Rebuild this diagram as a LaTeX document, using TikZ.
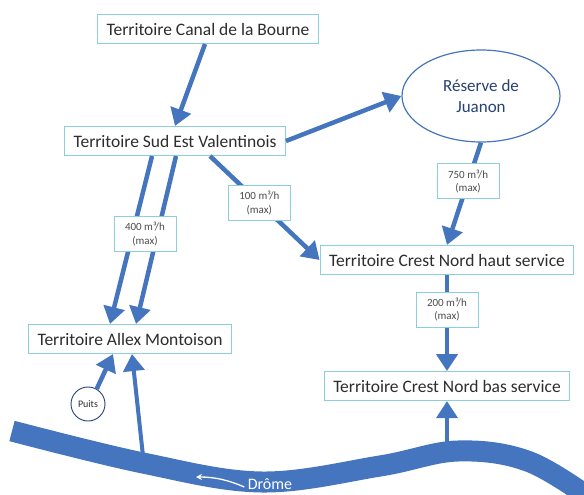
\documentclass[tikz,border=0pt]{standalone}
\usepackage{fontspec}
\setmainfont{Carlito}
\usetikzlibrary{positioning, shapes.geometric, arrows.meta}

\definecolor{fleuve}{RGB}{68,117,190}
\definecolor{cadre}{RGB}{140,205,222}
\definecolor{encre}{RGB}{45,45,45}
\definecolor{marine}{RGB}{40,65,115}

\begin{document}
\begin{tikzpicture}[
    x=1pt, y=-1pt,
    node distance=96pt,
    box/.style={
        rectangle,
        draw=cadre, line width=1.1pt, fill=white,
        text=encre,
        minimum height=29pt,
        inner xsep=9pt,
        font=\fontsize{17.5}{19}\selectfont
    },
    debit/.style={
        rectangle,
        draw=cadre, line width=1pt, fill=white,
        text=encre!85, align=center,
        inner sep=2pt,
        minimum width=62pt, minimum height=35pt,
        font=\fontsize{11}{13.5}\selectfont
    },
    reserve/.style={
        ellipse,
        draw=fleuve, line width=1.2pt, fill=white,
        text=marine, align=center,
        minimum width=158pt, minimum height=92pt,
        font=\fontsize{17}{21}\selectfont
    },
    puitsbox/.style={
        circle,
        draw=marine, line width=0.9pt, fill=white,
        text=encre, inner sep=0pt,
        minimum size=34pt,
        font=\fontsize{10}{11}\selectfont
    },
    flux/.style={
        draw=fleuve, line width=4.5pt,
        -{Triangle[length=17pt,width=21pt]}
    },
    riviere/.style={
        draw=fleuve, line width=21pt
    },
    courant/.style={
        draw=white, line width=1.3pt,
        -{Stealth[length=6pt,width=6pt]}
    }
]
\useasboundingbox (0,0) rectangle (584,495);

% Drome
\draw[riviere] plot[smooth, tension=0.6] coordinates
    {(12,431) (143,463) (262,482) (380,466) (458,451) (530,462) (600,505)};
\node[text=white, font=\fontsize{16}{18}\selectfont] (drome) at (270,484) {Drôme};
\coordinate (fleche) at (196,477);
\draw[courant] ([yshift=-3pt]drome.west) .. controls (228,480) and (215,477) .. (fleche);

% Territoires
\node[box] (canal) at (208,29) {Territoire Canal de la Bourne};
\node[box] (sud) at (175,141) {Territoire Sud Est Valentinois};
\node[reserve] (juanon) at (481,96) {Réserve de\\Juanon};
\node[box] (haut) at (447,260) {Territoire Crest Nord haut service};
\node[box,below=96pt of haut] (bas) {Territoire Crest Nord bas service};
\node[box] (allex) at (130,339) {Territoire Allex Montoison};
\node[puitsbox] (puits) at (88,404) {Puits};

% Prises
\coordinate (prise) at (143,456);
\coordinate (captage) at (447,446);

% Flux
\draw[flux] ([xshift=-3pt]canal.south) -- (sud.north);
\draw[flux] (sud.east) -- (juanon.west);
\draw[flux] ([xshift=-23pt]sud.south) -- ([xshift=-20pt]allex.north);
\draw[flux] ([xshift=1pt]sud.south) -- ([xshift=6pt]allex.north);
\node[debit] (q400) at (145,234) {400 m³/h\\(max)};
\draw[flux] ([xshift=35pt]sud.south) -- node[debit,pos=0.45] (q100) {100 m³/h\\(max)} (haut.west);
\draw[flux] (juanon.south) -- node[debit,pos=0.38] (q750) {750 m³/h\\(max)} (haut.north);
\draw[flux] (haut.south) -- node[debit,pos=0.36] (q200) {200 m³/h\\(max)} (bas.north);
\draw[flux] (puits.60) -- ([xshift=-17pt]allex.south);
\draw[flux, line width=4pt] (prise) -- ([xshift=2pt]allex.south);
\draw[flux, line width=4pt] (captage) -- (bas.south);

\end{tikzpicture}
\end{document}
